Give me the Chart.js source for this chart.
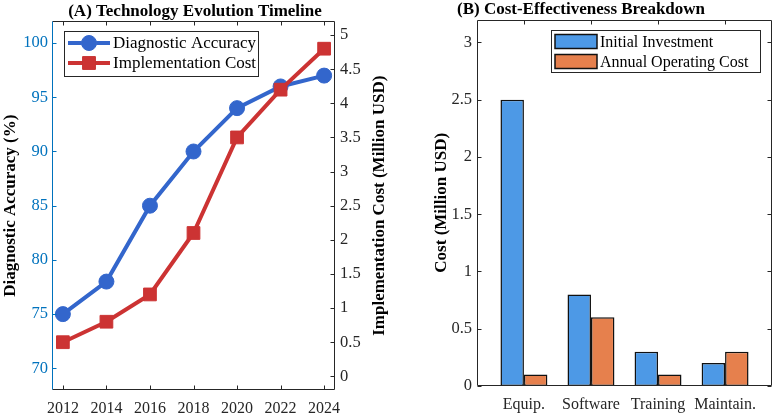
<!DOCTYPE html>
<html>
<head>
<meta charset="utf-8">
<script src="https://cdn.jsdelivr.net/npm/chart.js@4.4.0/dist/chart.umd.min.js"></script>
<style>
  body { margin: 0; background: #fff; }
  #wrap { position: relative; width: 774px; height: 415px; }
  #leftBox { position: absolute; left: 0; top: 0; width: 390px; height: 415px; }
  #rightBox { position: absolute; left: 390px; top: 0; width: 384px; height: 415px; }
</style>
</head>
<body>
<div id="wrap">
  <div id="leftBox"><canvas id="lineChart"></canvas></div>
  <div id="rightBox"><canvas id="barChart"></canvas></div>
</div>
<script>
// panel A data
const years = [2012, 2014, 2016, 2018, 2020, 2022, 2024];
const accuracy = [75, 78, 85, 90, 94, 96, 97];
const implCost = [0.5, 0.8, 1.2, 2.1, 3.5, 4.2, 4.8];
const accTicks = [70, 75, 80, 85, 90, 95, 100];
const costTicks = [0, 0.5, 1, 1.5, 2, 2.5, 3, 3.5, 4, 4.5, 5];

// panel B data
const costCategories = ['Equip.', 'Software', 'Training', 'Maintain.'];
const initialInvestment = [2.5, 0.8, 0.3, 0.2];
const annualOperating = [0.1, 0.6, 0.1, 0.3];
const barTicks = [0, 0.5, 1, 1.5, 2, 2.5, 3];

const serif = "'Liberation Serif', 'Times New Roman', serif";
Chart.defaults.font.family = serif;
Chart.defaults.color = '#262626';

const axisGray = '#262626';
const leftBlue = '#0072BD';
const tickLen = 4;

function setTicks(list) {
  return function (scale) { scale.ticks = list.map(v => ({ value: v })); };
}

function line(ctx, x1, y1, x2, y2) { ctx.moveTo(x1, y1); ctx.lineTo(x2, y2); }

function drawScaleTicks(ctx, scale, side, area, color) {
  ctx.save();
  ctx.strokeStyle = color;
  ctx.lineWidth = 1;
  ctx.beginPath();
  scale.ticks.forEach(t => {
    const p = Math.round(scale.getPixelForValue(t.value)) + 0.5;
    const L = Math.round(area.left) + 0.5, R = Math.round(area.right) - 0.5;
    const T = Math.round(area.top) + 0.5, B = Math.round(area.bottom) - 0.5;
    if (side === 'bottom') line(ctx, p, B, p, B - tickLen);
    if (side === 'top') line(ctx, p, T, p, T + tickLen);
    if (side === 'left') line(ctx, L, p, L + tickLen, p);
    if (side === 'right') line(ctx, R, p, R - tickLen, p);
  });
  ctx.stroke();
  ctx.restore();
}

function drawEdge(ctx, area, side, color) {
  const L = Math.round(area.left) + 0.5, R = Math.round(area.right) - 0.5;
  const T = Math.round(area.top) + 0.5, B = Math.round(area.bottom) - 0.5;
  ctx.save();
  ctx.strokeStyle = color;
  ctx.lineWidth = 1;
  ctx.beginPath();
  if (side === 'left') line(ctx, L, T, L, B);
  if (side === 'right') line(ctx, R, T, R, B);
  if (side === 'top') line(ctx, L, T, R, T);
  if (side === 'bottom') line(ctx, L, B, R, B);
  ctx.stroke();
  ctx.restore();
}

const lineDeco = {
  id: 'lineDeco',
  afterDraw(chart) {
    const ctx = chart.ctx, area = chart.chartArea, s = chart.scales;
    drawEdge(ctx, area, 'top', axisGray);
    drawEdge(ctx, area, 'bottom', axisGray);
    drawEdge(ctx, area, 'right', axisGray);
    drawEdge(ctx, area, 'left', leftBlue);
    drawScaleTicks(ctx, s.x, 'bottom', area, axisGray);
    drawScaleTicks(ctx, s.x, 'top', area, axisGray);
    drawScaleTicks(ctx, s.y, 'left', area, leftBlue);
    drawScaleTicks(ctx, s.y1, 'right', area, axisGray);

    // right axis title, reads bottom to top
    ctx.save();
    ctx.font = 'bold 17px ' + serif;
    ctx.fillStyle = '#000';
    ctx.textAlign = 'center';
    ctx.textBaseline = 'middle';
    ctx.translate(380, (area.top + area.bottom) / 2);
    ctx.rotate(-Math.PI / 2);
    ctx.fillText('Implementation Cost (Million USD)', 0, 0);
    ctx.restore();

    // legend
    const lx = Math.round(area.left) + 12, ly = Math.round(area.top) + 10;
    ctx.save();
    ctx.fillStyle = '#fff';
    ctx.fillRect(lx, ly, 194, 45);
    ctx.strokeStyle = axisGray;
    ctx.lineWidth = 1;
    ctx.strokeRect(lx + 0.5, ly + 0.5, 194, 45);
    ctx.font = '17px ' + serif;
    ctx.textBaseline = 'middle';
    chart.data.datasets.forEach((ds, i) => {
      const cy = ly + 12 + i * 20;
      ctx.strokeStyle = ds.borderColor;
      ctx.lineWidth = 4;
      ctx.beginPath();
      line(ctx, lx + 4, cy, lx + 46, cy);
      ctx.stroke();
      ctx.lineWidth = 1;
      Chart.helpers.drawPoint(ctx, { pointStyle: ds.pointStyle, radius: ds.pointRadius, borderWidth: 1 }, lx + 25, cy);
      ctx.fillStyle = ds.borderColor;
      ctx.fill();
      ctx.fillStyle = '#000';
      ctx.fillText(ds.label, lx + 49, cy + 1);
    });
    ctx.restore();
  }
};

const barDeco = {
  id: 'barDeco',
  afterDraw(chart) {
    const ctx = chart.ctx, area = chart.chartArea, s = chart.scales;
    ['top', 'bottom', 'left', 'right'].forEach(side => drawEdge(ctx, area, side, axisGray));
    drawScaleTicks(ctx, s.x, 'bottom', area, axisGray);
    drawScaleTicks(ctx, s.x, 'top', area, axisGray);
    drawScaleTicks(ctx, s.y, 'left', area, axisGray);
    drawScaleTicks(ctx, s.y, 'right', area, axisGray);

    // legend
    const lx = 161, ly = 30;
    ctx.save();
    ctx.fillStyle = '#fff';
    ctx.fillRect(lx, ly, 209, 42);
    ctx.strokeStyle = axisGray;
    ctx.lineWidth = 1;
    ctx.strokeRect(lx + 0.5, ly + 0.5, 209, 42);
    ctx.font = '16px ' + serif;
    ctx.textBaseline = 'middle';
    chart.data.datasets.forEach((ds, i) => {
      const cy = ly + 11.5 + i * 20;
      ctx.fillStyle = ds.backgroundColor;
      ctx.fillRect(lx + 4, cy - 7, 42, 14);
      ctx.strokeStyle = '#111';
      ctx.lineWidth = 1.5;
      ctx.strokeRect(lx + 4, cy - 7, 42, 14);
      ctx.fillStyle = '#000';
      ctx.fillText(ds.label, lx + 49, cy + 1);
    });
    ctx.restore();
  }
};

let lineChartCtx = document.getElementById('lineChart').getContext('2d');
let lineChart = new Chart(lineChartCtx, {
  type: 'line',
  data: {
    labels: years,
    datasets: [{
      label: 'Diagnostic Accuracy',
      data: years.map((yr, i) => ({ x: yr, y: accuracy[i] })),
      yAxisID: 'y',
      borderColor: '#3366CC',
      backgroundColor: '#3366CC',
      borderWidth: 4,
      pointStyle: 'circle',
      pointRadius: 7.5,
      pointBorderWidth: 1,
      order: 1
    }, {
      label: 'Implementation Cost',
      data: years.map((yr, i) => ({ x: yr, y: implCost[i] })),
      yAxisID: 'y1',
      borderColor: '#CC3333',
      backgroundColor: '#CC3333',
      borderWidth: 4,
      pointStyle: 'rect',
      pointRadius: 9,
      pointBorderWidth: 1,
      order: 0
    }]
  },
  options: {
    responsive: true,
    maintainAspectRatio: false,
    animation: false,
    layout: { padding: 0 },
    plugins: {
      legend: { display: false },
      tooltip: { enabled: false },
      title: {
        display: true,
        text: '(A) Technology Evolution Timeline',
        color: '#000',
        font: { size: 17, weight: 'bold', lineHeight: 1.2 },
        padding: { top: 1, bottom: 0 }
      }
    },
    scales: {
      x: {
        type: 'linear',
        min: 2011.5,
        max: 2024.5,
        grid: { display: false, drawTicks: false },
        border: { display: false },
        afterBuildTicks: setTicks(years),
        afterFit: s => { s.height = 25; },
        ticks: { padding: 9, font: { size: 16 }, color: axisGray, maxRotation: 0, callback: v => String(v) }
      },
      y: {
        position: 'left',
        min: 68,
        max: 102,
        grid: { display: false, drawTicks: false },
        border: { display: false },
        afterBuildTicks: setTicks(accTicks),
        afterFit: s => { s.width = 52; },
        ticks: { padding: 4, font: { size: 16.5 }, color: leftBlue, callback: v => String(v) },
        title: {
          display: true,
          text: 'Diagnostic Accuracy (%)',
          color: '#000',
          font: { size: 17, weight: 'bold', lineHeight: 1.2 },
          padding: { top: 0, bottom: 0 }
        }
      },
      y1: {
        position: 'right',
        min: -0.2,
        max: 5.2,
        grid: { display: false, drawTicks: false },
        border: { display: false },
        afterBuildTicks: setTicks(costTicks),
        afterFit: s => { s.width = 55; },
        ticks: { padding: 5, font: { size: 16.5 }, color: axisGray, callback: v => String(v) }
      }
    }
  },
  plugins: [lineDeco]
});

let barChartCtx = document.getElementById('barChart').getContext('2d');
let barChart = new Chart(barChartCtx, {
  type: 'bar',
  data: {
    datasets: [{
      label: 'Initial Investment',
      data: costCategories.map((c, i) => ({ x: i + 1, y: initialInvestment[i] })),
      backgroundColor: '#4D99E6',
      borderColor: '#111',
      borderWidth: 1.5,
      borderSkipped: false
    }, {
      label: 'Annual Operating Cost',
      data: costCategories.map((c, i) => ({ x: i + 1, y: annualOperating[i] })),
      backgroundColor: '#E6804D',
      borderColor: '#111',
      borderWidth: 1.5,
      borderSkipped: false
    }]
  },
  options: {
    responsive: true,
    maintainAspectRatio: false,
    animation: false,
    layout: { padding: { right: 2 } },
    datasets: { bar: { categoryPercentage: 0.7, barPercentage: 1.0 } },
    plugins: {
      legend: { display: false },
      tooltip: { enabled: false },
      title: {
        display: true,
        text: '(B) Cost-Effectiveness Breakdown',
        color: '#000',
        font: { size: 17, weight: 'bold', lineHeight: 1.15 },
        padding: { top: 0, bottom: 0 }
      }
    },
    scales: {
      x: {
        type: 'linear',
        min: 0.3,
        max: 4.7,
        offset: false,
        grid: { display: false, drawTicks: false },
        border: { display: false },
        afterBuildTicks: setTicks([1, 2, 3, 4]),
        afterFit: s => { s.height = 29; },
        ticks: { padding: 9, font: { size: 16 }, color: axisGray, maxRotation: 0, autoSkip: false,
                 callback: v => costCategories[v - 1] || '' }
      },
      y: {
        min: 0,
        max: 3.2,
        grid: { display: false, drawTicks: false },
        border: { display: false },
        afterBuildTicks: setTicks(barTicks),
        afterFit: s => { s.width = 87; },
        ticks: { padding: 5, font: { size: 16.5 }, color: axisGray, callback: v => String(v) },
        title: {
          display: true,
          text: 'Cost (Million USD)',
          color: '#000',
          font: { size: 17, weight: 'bold', lineHeight: 1.2 },
          padding: { top: 41, bottom: 0 }
        }
      }
    }
  },
  plugins: [barDeco]
});
</script>
</body>
</html>
